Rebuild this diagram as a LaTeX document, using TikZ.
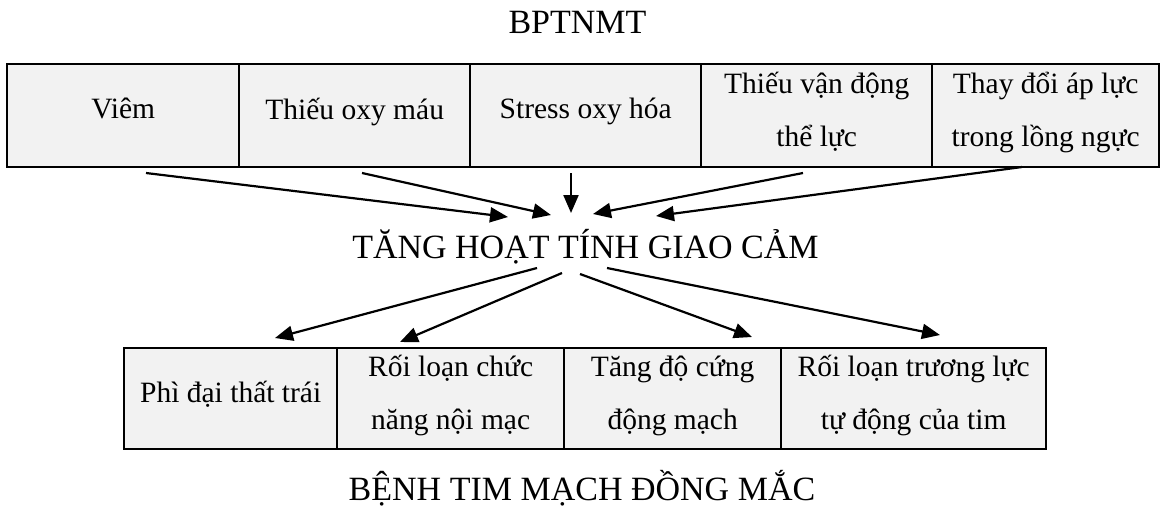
\documentclass[tikz,border=0pt]{standalone}
\usepackage{fontspec}
\setmainfont{Liberation Serif}
\usetikzlibrary{arrows.meta}
% struts fixing the line boxes inside the table cells
\newcommand{\vstr}{\rule[-12pt]{0pt}{32pt}}% lines of two-line cells
\newcommand{\sstr}{\rule[-14pt]{0pt}{30pt}}% single-line cells
\begin{document}
\begin{tikzpicture}[x=1pt,y=-1pt,
  cell/.style={draw=black, line width=2.4pt, fill=cellgray, inner sep=0pt,
    anchor=north west, align=center, font=\fontsize{29.5}{53}\selectfont},
  toprow/.style={cell, minimum height=103pt},
  botrow/.style={cell, minimum height=101pt},
  head/.style={anchor=base, inner sep=0pt, font=\fontsize{34}{40}\selectfont},
  arr/.style={line width=2.2pt, -{Triangle[length=18pt,width=15pt]}}]
\definecolor{cellgray}{HTML}{F2F2F2}
\useasboundingbox (0,0) rectangle (1163,507);

% title
\node[head] (bp) at (577.5,33) {BPTNMT};

% causes
\node[toprow, minimum width=232pt] (c1) at (6,63)   {Viêm\sstr};
\node[toprow, minimum width=231pt] (c2) at (238,63) {Thiếu oxy máu\sstr};
\node[toprow, minimum width=231pt] (c3) at (469,63) {Stress oxy hóa\sstr};
\node[toprow, minimum width=231pt] (c4) at (700,63) {Thiếu vận động\vstr\\thể lực\vstr};
\node[toprow, minimum width=227pt] (c5) at (931,63) {Thay đổi áp lực\vstr\\trong lồng ngực\vstr};

% central mechanism
\node[head] (mid) at (585.5,258) {TĂNG HOẠT TÍNH GIAO CẢM};

% consequences
\node[botrow, minimum width=213pt] (d1) at (123,347) {Phì đại thất trái\sstr};
\node[botrow, minimum width=227pt] (d2) at (336,347) {Rối loạn chức\vstr\\năng nội mạc\vstr};
\node[botrow, minimum width=217pt] (d3) at (563,347) {Tăng độ cứng\vstr\\động mạch\vstr};
\node[botrow, minimum width=265pt] (d4) at (780,347) {Rối loạn trương lực\vstr\\tự động của tim\vstr};

% outcome
\node[head] (out) at (582,500) {BỆNH TIM MẠCH ĐỒNG MẮC};

% arrow end points
\coordinate (s1) at (146,173);  \coordinate (e1) at (508,217);
\coordinate (s2) at (362,173);  \coordinate (e2) at (551,215);
\coordinate (s3) at (571,173);  \coordinate (e3) at (571,213);
\coordinate (s4) at (803,173);  \coordinate (e4) at (593,214);
\coordinate (s5) at (1022,167); \coordinate (e5) at (656,216);

\coordinate (t1) at (537,268);  \coordinate (f1) at (275,338);
\coordinate (t2) at (562,273);  \coordinate (f2) at (400,342);
\coordinate (t3) at (580,274);  \coordinate (f3) at (752,337);
\coordinate (t4) at (607,268);  \coordinate (f4) at (940,335);

\foreach \i in {1,...,5} \draw[arr] (s\i) -- (e\i);
\foreach \i in {1,...,4} \draw[arr] (t\i) -- (f\i);
\end{tikzpicture}
\end{document}
